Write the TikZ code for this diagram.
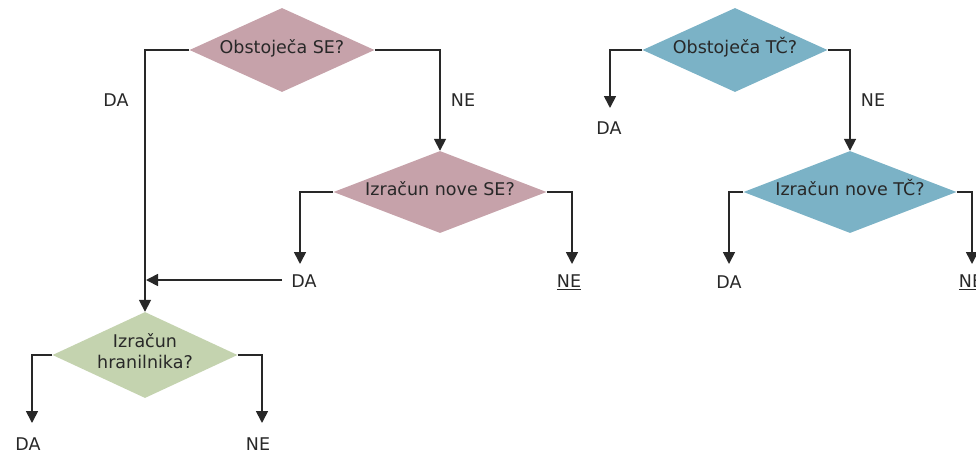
\documentclass[tikz,border=0pt]{standalone}
\usepackage{fontspec}
\setmainfont{DejaVu Sans}
\usetikzlibrary{shapes.geometric,arrows.meta}
\definecolor{mauve}{RGB}{198,162,170}
\definecolor{sage}{RGB}{196,211,175}
\definecolor{teal}{RGB}{123,178,198}
\definecolor{ink}{RGB}{40,40,40}
\newcommand{\zerobox}[1]{\smash{\makebox[0pt]{\raisebox{-0.35em}{\raisebox{3pt}{#1}}}}}
\begin{document}
\begin{tikzpicture}[x=1pt,y=-1pt,
  dec/.style={diamond,draw=none,inner sep=0pt,text=ink,
     font=\fontsize{17.5}{22}\selectfont},
  lbl/.style={text=ink,font=\fontsize{17.5}{20}\selectfont,inner sep=1pt},
  conn/.style={draw=ink,line width=1.7pt},
  arr/.style={conn,-{Triangle[width=12pt,length=12pt]}}]
\useasboundingbox (0,0) rectangle (976,455);
% diamonds
\node[dec,fill=mauve,minimum width=185pt,minimum height=84pt] (d1) at (282,50) {\zerobox{Obstoječa SE?}};
\node[dec,fill=mauve,minimum width=213pt,minimum height=82pt] (d2) at (440,192) {\zerobox{Izračun nove SE?}};
\node[dec,fill=sage,minimum width=185pt,minimum height=86pt] (d3) at (145,355) {\zerobox{\begin{tabular}{@{}c@{}}Izračun\\[-1pt]hranilnika?\end{tabular}}};
\node[dec,fill=teal,minimum width=185pt,minimum height=84pt] (d4) at (735,50) {\zerobox{Obstoječa TČ?}};
\node[dec,fill=teal,minimum width=213pt,minimum height=82pt] (d5) at (850,192) {\zerobox{Izračun nove TČ?}};
% labels
\node[lbl] (l1) at (116,100) {DA};
\node[lbl] (l2) at (463,100) {NE};
\node[lbl] (l3) at (304,281) {DA};
\node[lbl] (l4) at (569,282) {\underline{NE}};
\node[lbl] (l5) at (28,444) {DA};
\node[lbl] (l6) at (258,444) {NE};
\node[lbl] (l7) at (609,128) {DA};
\node[lbl] (l8) at (873,100) {NE};
\node[lbl] (l9) at (729,282) {DA};
\node[lbl] (l10) at (971,282) {\underline{NE}};
% arrow end points
\coordinate (e3) at (300,264);
\coordinate (e4) at (572,264);
\coordinate (e5) at (32,423);
\coordinate (e6) at (262,423);
\coordinate (e7) at (610,108);
\coordinate (e9) at (729,264);
\coordinate (e10) at (972,264);
\coordinate (h1) at (282,280);
\coordinate (h2) at (146,280);
% connectors
\draw[arr] (d1.west) -| (d3.north);
\draw[arr] (d1.east) -| (d2.north);
\draw[arr] (d2.west) -| (e3);
\draw[arr] (d2.east) -| (e4);
\draw[arr] (h1) -- (h2);
\draw[arr] (d3.west) -| (e5);
\draw[arr] (d3.east) -| (e6);
\draw[arr] (d4.west) -| (e7);
\draw[arr] (d4.east) -| (d5.north);
\draw[arr] (d5.west) -| (e9);
\draw[arr] (d5.east) -| (e10);
\end{tikzpicture}
\end{document}
